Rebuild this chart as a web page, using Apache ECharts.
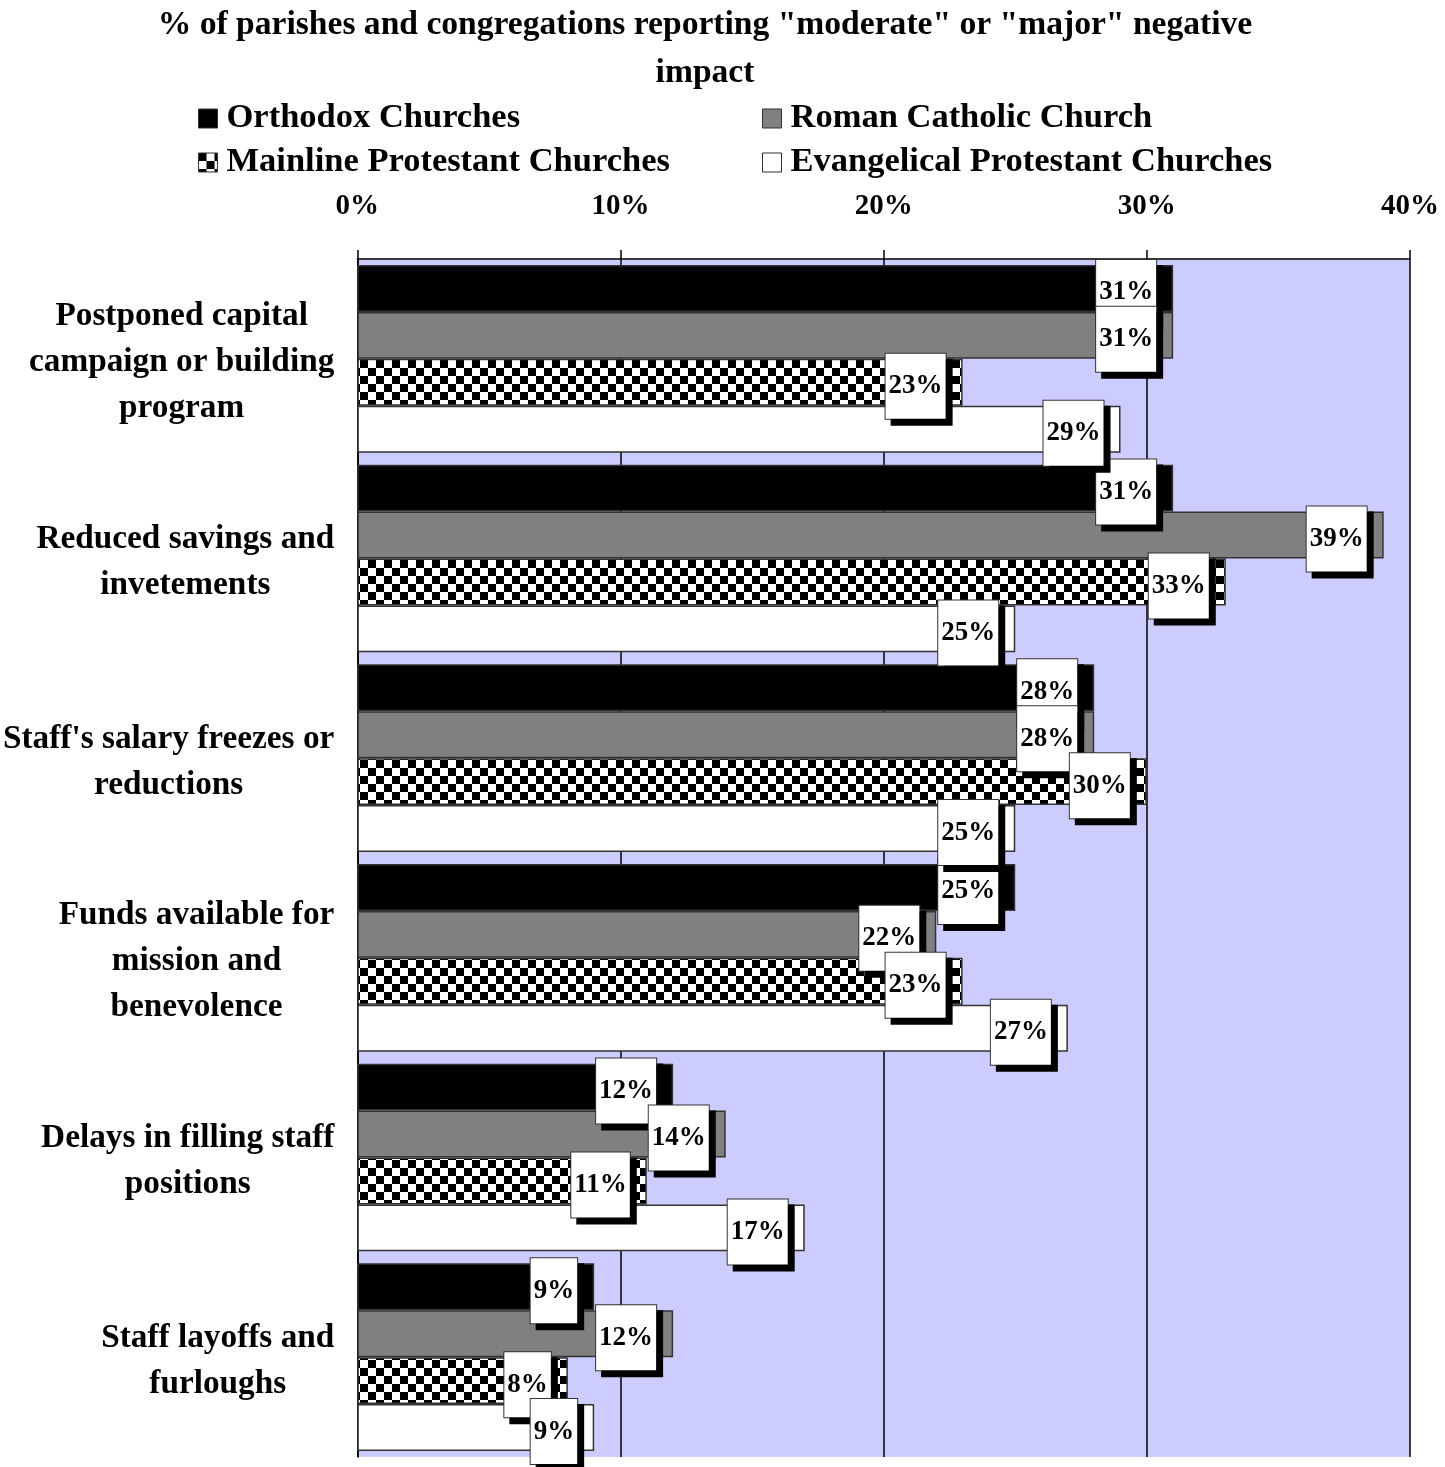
<!DOCTYPE html>
<html>
<head>
<meta charset="utf-8">
<script src="https://cdn.jsdelivr.net/npm/echarts@6/dist/echarts.min.js"></script>
<style>
html,body{margin:0;padding:0;background:#fff;}
#chart{width:1445px;height:1467px;}
</style>
</head>
<body>
<div id="chart"></div>
<script>
var titleText = '% of parishes and congregations reporting "moderate" or "major" negative\nimpact';
var categories = [
  'Postponed capital\ncampaign or building\nprogram',
  'Reduced savings and\ninvetements',
  "Staff's salary freezes or\nreductions",
  'Funds available for\nmission and\nbenevolence',
  'Delays in filling staff\npositions',
  'Staff layoffs and\nfurloughs'
];
var seriesNames = ['Orthodox Churches', 'Roman Catholic Church', 'Mainline Protestant Churches', 'Evangelical Protestant Churches'];
var orthodox    = [31, 31, 28, 25, 12, 9];
var catholic    = [31, 39, 28, 22, 14, 12];
var mainline    = [23, 33, 30, 23, 11, 8];
var evangelical = [29, 25, 25, 27, 17, 9];
var xTicks = [0, 10, 20, 30, 40];

var FONT = '"Liberation Serif", "DejaVu Serif", serif';

// checkerboard pattern
var pc = document.createElement('canvas');
pc.width = 16; pc.height = 16;
var pctx = pc.getContext('2d');
pctx.fillStyle = '#fff'; pctx.fillRect(0, 0, 16, 16);
pctx.fillStyle = '#000';
pctx.fillRect(0, 0, 8, 8);
pctx.fillRect(8, 8, 8, 8);
var checker = { image: pc, repeat: 'repeat' };

var colors = ['#000000', '#808080', checker, '#ffffff'];
var datasets = [orthodox, catholic, mainline, evangelical];

var chart = echarts.init(document.getElementById('chart'), null, { renderer: 'canvas' });

var series = datasets.map(function (d, i) {
  return {
    name: seriesNames[i],
    type: 'bar',
    data: d,
    barGap: '0%',
    barCategoryGap: '6%',
    itemStyle: { color: colors[i], borderColor: '#333', borderWidth: 1.5 },
    label: {
      show: true,
      position: 'insideRight',
      distance: 17,
      offset: [0, 4],
      formatter: '{c}%',
      color: '#000',
      fontFamily: FONT,
      fontWeight: 'bold',
      fontSize: 27,
      backgroundColor: '#fff',
      borderColor: '#333',
      borderWidth: 1,
      padding: [20, 3, 18, 3],
      shadowColor: '#000',
      shadowBlur: 0,
      shadowOffsetX: 6,
      shadowOffsetY: 6
    },
    emphasis: { disabled: true },
    animation: false
  };
});

var legendText = { fontFamily: FONT, fontWeight: 'bold', fontSize: 34.5, color: '#000', padding: [0, 0, 0, 4] };

var option = {
  animation: false,
  title: {
    text: titleText,
    left: 700,
    textAlign: 'center',
    top: -4,
    textStyle: { fontFamily: FONT, fontWeight: 'bold', fontSize: 33.6, lineHeight: 48, color: '#000' }
  },
  legend: [
    {
      data: [seriesNames[0], seriesNames[2]],
      orient: 'vertical',
      left: 193, top: 96,
      itemWidth: 19, itemHeight: 19, itemGap: 9,
      icon: 'rect',
      itemStyle: { borderColor: '#333', borderWidth: 1 },
      textStyle: legendText
    },
    {
      data: [seriesNames[1], seriesNames[3]],
      orient: 'vertical',
      left: 757, top: 96,
      itemWidth: 19, itemHeight: 19, itemGap: 9,
      icon: 'rect',
      itemStyle: { borderColor: '#333', borderWidth: 1 },
      textStyle: legendText
    }
  ],
  grid: {
    left: 356, right: 35, top: 259, bottom: 10,
    show: true, backgroundColor: '#CCCCFF', borderWidth: 0
  },
  xAxis: {
    type: 'value',
    position: 'top',
    min: xTicks[0], max: xTicks[xTicks.length - 1], interval: 10,
    axisLine: { show: true, lineStyle: { color: '#000', width: 1.5 } },
    axisTick: { show: true, inside: false, length: 9, lineStyle: { color: '#000', width: 1.5 } },
    splitLine: { show: true, lineStyle: { color: '#000', width: 1.5 } },
    axisLabel: {
      margin: 38,
      formatter: '{value}%',
      fontFamily: FONT, fontWeight: 'bold', fontSize: 29, color: '#000'
    }
  },
  yAxis: {
    type: 'category',
    inverse: true,
    data: categories,
    axisLine: { show: true, lineStyle: { color: '#000', width: 1.5 } },
    axisTick: { show: false },
    axisLabel: {
      margin: 23,
      align: 'right',
      padding: [8, 0, 0, 0],
      formatter: function (v) {
        return v.split('\n').map(function (l) { return '{c|' + l + '}'; }).join('\n');
      },
      rich: {
        c: { align: 'center', fontFamily: FONT, fontWeight: 'bold', fontSize: 33.3, lineHeight: 46, color: '#000' }
      }
    }
  },
  series: series
};
chart.setOption(option);
</script>
</body>
</html>
